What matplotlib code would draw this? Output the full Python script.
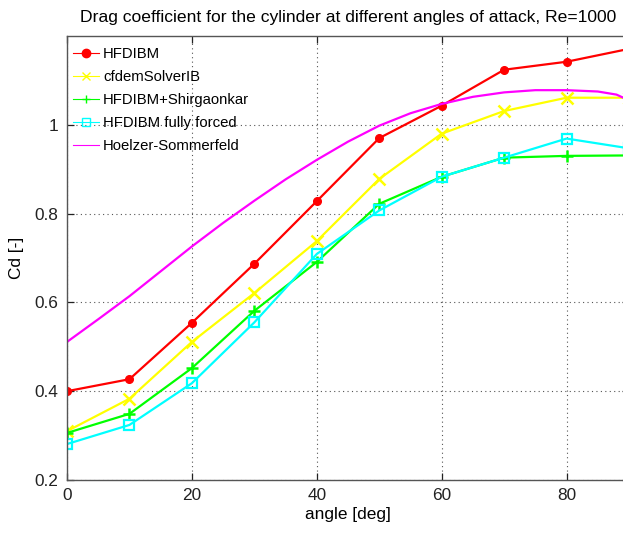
import matplotlib
matplotlib.use("Agg")
import matplotlib.pyplot as plt

plt.rcParams['font.family'] = ['Liberation Sans', 'DejaVu Sans']

# ======== 数据 ========
angles = [0, 10, 20, 30, 40, 50, 60, 70, 80, 90]
cd_hfdibm = [0.400, 0.427, 0.554, 0.687, 0.828, 0.970, 1.043, 1.124, 1.142, 1.171]
cd_cfdem = [0.310, 0.383, 0.511, 0.621, 0.738, 0.878, 0.980, 1.031, 1.061, 1.061]
cd_shirg = [0.306, 0.349, 0.452, 0.581, 0.691, 0.822, 0.883, 0.926, 0.930, 0.931]
cd_forced = [0.281, 0.324, 0.418, 0.555, 0.709, 0.807, 0.883, 0.926, 0.969, 0.947]

# Hoelzer-Sommerfeld 曲线 (读图取样)
hs_angles = [0, 5, 10, 15, 20, 25, 30, 35, 40, 45, 50, 55, 60, 65, 70, 75, 80, 85, 88, 90]
hs_cd = [0.511, 0.562, 0.614, 0.670, 0.726, 0.779, 0.829, 0.877, 0.921, 0.962,
         0.998, 1.026, 1.047, 1.063, 1.073, 1.078, 1.078, 1.075, 1.068, 1.055]

labels = ["HFDIBM", "cfdemSolverIB", "HFDIBM+Shirgaonkar",
          "HFDIBM fully forced", "Hoelzer-Sommerfeld"]

# ======== 绘图 ========
fig = plt.figure(figsize=(6.23, 5.33), dpi=100)
ax = fig.add_axes([67 / 623, 1 - 480 / 533, 562 / 623, 444 / 533])

ax.plot(angles, cd_hfdibm, color=(1, 0, 0), lw=1.6, marker='o', ms=5.5, label=labels[0])
ax.plot(angles, cd_cfdem, color=(1, 1, 0), lw=1.6, marker='x', ms=8, mew=1.8, label=labels[1])
ax.plot(angles, cd_shirg, color=(0, 1, 0), lw=1.6, marker='+', ms=8, mew=1.8, label=labels[2])
ax.plot(angles, cd_forced, color=(0, 1, 1), lw=1.6, marker='s', ms=7, mew=1.6,
        markerfacecolor='none', label=labels[3])
ax.plot(hs_angles, hs_cd, color=(1, 0, 1), lw=1.6, label=labels[4])

ax.set_xlim(0, 90)
ax.set_ylim(0.2, 1.2)
ax.set_xticks([0, 20, 40, 60, 80])
ax.set_yticks([0.2, 0.4, 0.6, 0.8, 1.0])
ax.set_yticklabels(["0.2", "0.4", "0.6", "0.8", "1"])

ax.grid(True, linestyle=(0, (1, 3)), color='#555555', lw=0.8)
ax.tick_params(direction='in', top=True, right=True, length=5, width=0.9,
               labelsize=12.4, colors='#222222', pad=6)
for sp in ax.spines.values():
    sp.set_color('#555555')
    sp.set_linewidth(1.0)

ax.set_title("Drag coefficient for the cylinder at different angles of attack, Re=1000",
             fontsize=12.6, pad=10)
ax.set_xlabel("angle [deg]", fontsize=12.4, labelpad=3)
ax.set_ylabel("Cd [-]", fontsize=12.4, labelpad=8)

leg = ax.legend(loc='upper left', bbox_to_anchor=(-0.003, 0.993), frameon=False,
                fontsize=10.7, handlelength=1.75, borderaxespad=0.25,
                labelspacing=0.6, handletextpad=0.25, borderpad=0.3)
# 图例中的线细一些, 标记小一些 (MATLAB 风格)
for h in leg.legend_handles:
    h.set_linewidth(0.8)
    h.set_markersize(6)
    h.set_markeredgewidth(1.0)

fig.savefig("out.png", dpi=100)
